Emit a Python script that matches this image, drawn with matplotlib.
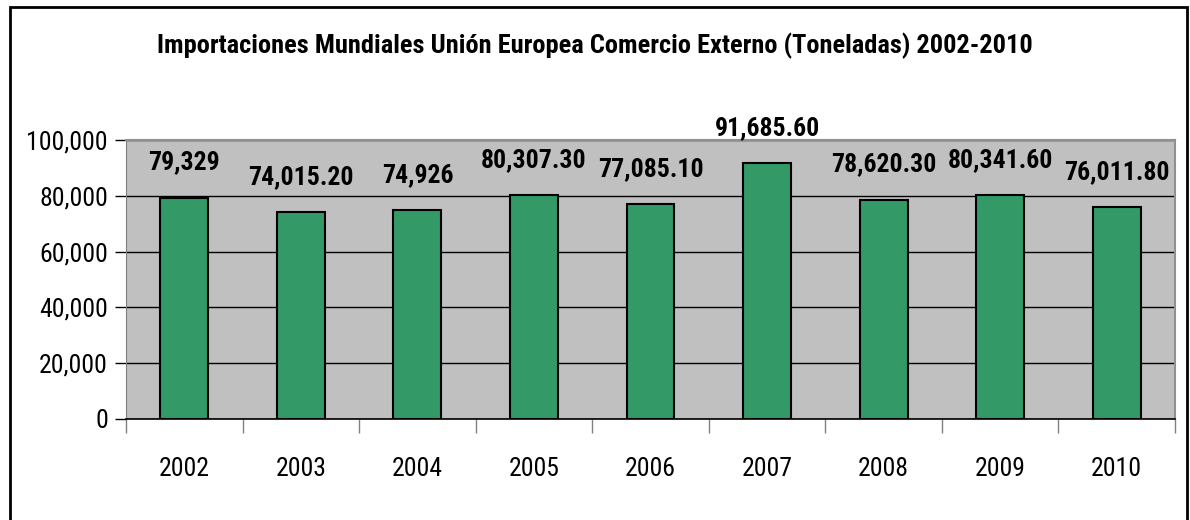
import matplotlib
matplotlib.use('Agg')
import matplotlib.pyplot as plt
from matplotlib.patches import Rectangle
from matplotlib.ticker import FuncFormatter, MultipleLocator

YEARS = ['2002', '2003', '2004', '2005', '2006', '2007', '2008', '2009', '2010']
VALUES = [79329, 74015.2, 74926, 80307.3, 77085.1, 91685.6, 78620.3, 80341.6, 76011.8]
LABELS = ['79,329', '74,015.20', '74,926', '80,307.30', '77,085.10',
          '91,685.60', '78,620.30', '80,341.60', '76,011.80']
TITLE = 'Importaciones Mundiales Unión Europea Comercio Externo (Toneladas) 2002-2010'

# fuente estrecha parecida a Arial Narrow
plt.rcParams['font.family'] = ['Roboto Condensed', 'Liberation Sans', 'DejaVu Sans']

fig = plt.figure(figsize=(11.9, 5.2), dpi=100)
fig.patch.set_facecolor('white')

# marco exterior del grafico
fig.patches.append(Rectangle((10 / 1190, -5 / 520), 1177 / 1190, 518 / 520,
                             transform=fig.transFigure, fill=False,
                             edgecolor='black', linewidth=2))

ax = fig.add_axes([126 / 1190, 101 / 520, 1049 / 1190, 279 / 520])
ax.set_facecolor('#C0C0C0')

x = list(range(len(YEARS)))
ax.bar(x, VALUES, width=0.41, color='#339966', edgecolor='black', linewidth=1.5, zorder=3)

for xi, v, lab in zip(x, VALUES, LABELS):
    ax.annotate(lab, (xi, v), xytext=(0, 35), textcoords='offset pixels',
                ha='center', va='center', fontsize=18.5, fontweight='bold', zorder=4,
                annotation_clip=False)

ax.set_xlim(-0.5, len(YEARS) - 0.5)
ax.set_ylim(0, 100000)
ax.yaxis.set_major_locator(MultipleLocator(20000))
ax.yaxis.set_major_formatter(FuncFormatter(lambda v, p: f'{v:,.0f}'))
ax.grid(axis='y', color='black', linewidth=1, zorder=1)
ax.set_axisbelow(True)

# ticks en los limites de categoria, etiquetas en el centro
ax.set_xticks([i - 0.5 for i in range(len(YEARS) + 1)])
ax.set_xticklabels([])
ax.set_xticks(x, minor=True)
ax.set_xticklabels(YEARS, minor=True)
ax.tick_params(axis='x', which='major', direction='out', length=10, width=1, color='#808080')
ax.tick_params(axis='x', which='minor', length=0, pad=27, labelsize=18.5)
ax.tick_params(axis='y', direction='out', length=8, width=1, color='black', labelsize=18.5, pad=5)

for side in ['top', 'right']:
    ax.spines[side].set_color('#909090')
    ax.spines[side].set_linewidth(1.5)
ax.spines['left'].set_color('#808080')
ax.spines['bottom'].set_color('black')
ax.spines['bottom'].set_linewidth(1.2)

fig.text(0.5, 1 - 46 / 520, TITLE, ha='center', va='center', fontsize=19, fontweight='bold')

fig.savefig('out.png', dpi=100)
